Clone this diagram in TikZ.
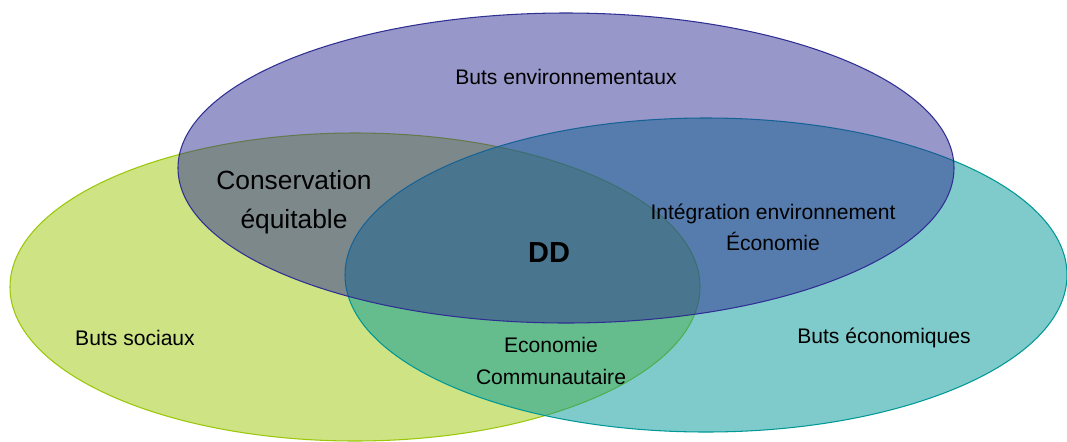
\documentclass[tikz,border=0pt]{standalone}
\usepackage{fontspec}
\setmainfont{Liberation Sans}
\usepackage{tikz}

\definecolor{socgreen}{RGB}{155,199,9}
\definecolor{ecoteal}{RGB}{0,151,151}
\definecolor{envblue}{RGB}{47,47,147}

\tikzset{
  goal/.style={fill=#1, fill opacity=0.5, draw=#1, line width=0.6pt},
  lbl/.style={font=\fontsize{12}{14}\selectfont, align=center, inner sep=0pt},
}

\begin{document}
\begin{tikzpicture}[x=0.02cm, y=0.02cm]
  \useasboundingbox (0,0) rectangle (1067,441);

  % Goals
  \draw[goal=socgreen] (355,154) ellipse [x radius=345, y radius=154];
  \draw[goal=ecoteal] (706,166) ellipse [x radius=361, y radius=157];
  \draw[goal=envblue] (566,273) ellipse [x radius=388, y radius=155];

  % Labels
  \node[lbl] (env) at (566,364) {Buts environnementaux};
  \node[lbl] (soc) at (135,103) {Buts sociaux};
  \node[lbl] (eco) at (884,103) {Buts économiques};

  % Overlaps
  \node[lbl, font=\fontsize{15}{22}\selectfont] (cons) at (294,239) {Conservation\\équitable};
  \node[lbl, font=\fontsize{12}{17.6}\selectfont] (integ) at (773,214) {Intégration environnement\\Économie};
  \node[lbl, font=\fontsize{12}{18}\selectfont] (comm) at (551,80) {Economie\\Communautaire};
  \node[lbl, font=\fontsize{16.5}{18}\bfseries] (dd) at (549,188) {DD};

\end{tikzpicture}
\end{document}
